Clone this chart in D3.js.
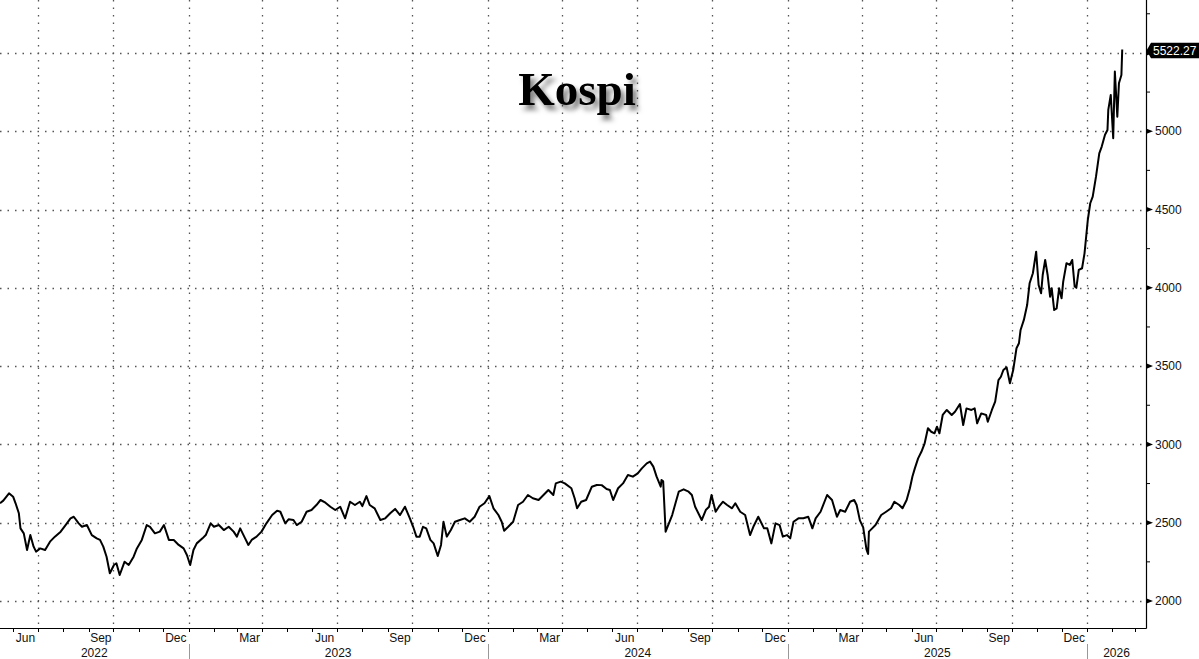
<!DOCTYPE html>
<html><head><meta charset="utf-8">
<script src="https://cdn.jsdelivr.net/npm/d3@7"></script>
<style>body{margin:0;background:#fff}svg{display:block}</style>
</head><body>
<svg id="c" width="1199" height="659"></svg>
<script>
const dates = [
"2022-05-16","2022-05-20","2022-05-27","2022-06-01","2022-06-04","2022-06-08","2022-06-10","2022-06-14","2022-06-18","2022-06-22","2022-06-26","2022-06-29",
"2022-07-04","2022-07-10","2022-07-16","2022-07-22","2022-07-29","2022-08-04","2022-08-10","2022-08-14","2022-08-20","2022-08-24","2022-08-30",
"2022-09-05","2022-09-11","2022-09-15","2022-09-19","2022-09-23","2022-09-27","2022-10-02","2022-10-05","2022-10-09","2022-10-15","2022-10-20","2022-10-26","2022-10-30",
"2022-11-05","2022-11-11","2022-11-15","2022-11-21","2022-11-27","2022-12-02","2022-12-08","2022-12-14","2022-12-20","2022-12-26","2022-12-30",
"2023-01-03","2023-01-07","2023-01-11","2023-01-18","2023-01-22","2023-01-28","2023-02-01","2023-02-07","2023-02-13","2023-02-19","2023-02-25",
"2023-03-01","2023-03-05","2023-03-11","2023-03-15","2023-03-19","2023-03-25","2023-03-31","2023-04-06","2023-04-13","2023-04-19","2023-04-23","2023-04-29",
"2023-05-03","2023-05-09","2023-05-13","2023-05-19","2023-05-25","2023-05-31","2023-06-06","2023-06-11","2023-06-17","2023-06-23","2023-06-29",
"2023-07-05","2023-07-11","2023-07-17","2023-07-23","2023-07-29","2023-08-01","2023-08-06","2023-08-10","2023-08-16","2023-08-23","2023-08-29",
"2023-09-04","2023-09-10","2023-09-16","2023-09-22","2023-09-28","2023-10-02","2023-10-06","2023-10-10","2023-10-14","2023-10-18","2023-10-23","2023-10-27",
"2023-11-01","2023-11-05","2023-11-08","2023-11-12","2023-11-17","2023-11-22","2023-11-28","2023-12-04","2023-12-10","2023-12-16","2023-12-22","2023-12-28",
"2024-01-03","2024-01-08","2024-01-14","2024-01-18","2024-01-21","2024-01-26","2024-02-01","2024-02-07","2024-02-13","2024-02-19","2024-02-25",
"2024-03-03","2024-03-09","2024-03-15","2024-03-21","2024-03-24","2024-03-30","2024-04-04","2024-04-12","2024-04-16","2024-04-19","2024-04-24","2024-04-30",
"2024-05-07","2024-05-13","2024-05-19","2024-05-25","2024-05-29","2024-06-02","2024-06-08","2024-06-14","2024-06-20","2024-06-26",
"2024-07-02","2024-07-07","2024-07-13","2024-07-17","2024-07-21","2024-07-25","2024-07-30","2024-07-31","2024-08-02","2024-08-05","2024-08-13","2024-08-17","2024-08-21","2024-08-27",
"2024-09-02","2024-09-06","2024-09-10","2024-09-18","2024-09-23","2024-09-27","2024-09-30","2024-10-05","2024-10-09","2024-10-14","2024-10-19","2024-10-25","2024-10-29",
"2024-11-04","2024-11-10","2024-11-16","2024-11-20","2024-11-26","2024-12-03","2024-12-07","2024-12-12","2024-12-17","2024-12-22","2024-12-26","2024-12-31",
"2025-01-04","2025-01-08","2025-01-14","2025-01-20","2025-01-26","2025-01-31","2025-02-04","2025-02-10","2025-02-18","2025-02-24",
"2025-03-02","2025-03-06","2025-03-12","2025-03-18","2025-03-23","2025-03-26","2025-03-30","2025-04-03","2025-04-07","2025-04-09","2025-04-10","2025-04-14","2025-04-18","2025-04-25",
"2025-05-01","2025-05-07","2025-05-11","2025-05-17","2025-05-21","2025-05-26","2025-05-30","2025-06-02","2025-06-05","2025-06-09","2025-06-13","2025-06-17","2025-06-21","2025-06-25","2025-06-29",
"2025-07-02","2025-07-05","2025-07-09","2025-07-14","2025-07-20","2025-07-24","2025-07-30","2025-08-03","2025-08-07","2025-08-13","2025-08-17","2025-08-20","2025-08-25","2025-08-31",
"2025-09-02","2025-09-07","2025-09-11","2025-09-15","2025-09-18","2025-09-21","2025-09-25","2025-09-29","2025-10-03","2025-10-07","2025-10-10","2025-10-12","2025-10-16","2025-10-20","2025-10-23","2025-10-27","2025-10-31",
"2025-11-03","2025-11-06","2025-11-08","2025-11-11","2025-11-14","2025-11-17","2025-11-19","2025-11-22","2025-11-25","2025-11-28",
"2025-12-01","2025-12-03","2025-12-07","2025-12-11","2025-12-14","2025-12-17","2025-12-19","2025-12-22","2025-12-26","2025-12-29",
"2026-01-02","2026-01-05","2026-01-08","2026-01-12","2026-01-16","2026-01-19","2026-01-23","2026-01-26","2026-01-27","2026-01-30",
"2026-02-02","2026-02-04","2026-02-07","2026-02-09","2026-02-12","2026-02-13"
];
const values = [
2624,2641,2688,2666,2624,2560,2464,2432,2326,2421,2347,2315,
2336,2326,2379,2411,2443,2485,2528,2538,2496,2474,2485,
2421,2400,2390,2347,2283,2177,2230,2241,2166,2251,2230,2283,2336,
2390,2485,2474,2432,2443,2485,2390,2390,2358,2336,2294,
2230,2326,2368,2400,2421,2496,2474,2485,2453,2474,2443,
2411,2464,2400,2358,2390,2411,2443,2496,2549,2577,2570,2496,
2522,2517,2485,2506,2570,2581,2613,2645,2628,2602,2581,
2602,2528,2634,2613,2634,2606,2670,2613,2592,2517,2528,
2560,2588,2549,2602,2528,2474,2411,2411,2474,2464,2390,2368,
2287,2358,2506,2411,2453,2506,2517,2528,2506,2538,2602,2624,
2670,2592,2549,2506,2449,2474,2506,2613,2634,2677,2656,
2645,2677,2709,2677,2751,2762,2751,2720,2656,2592,2634,2645,
2730,2741,2740,2715,2709,2645,2720,2751,2805,2794,
2815,2847,2879,2890,2858,2794,2730,2773,2765,2443,2549,2624,2698,2713,
2698,2677,2602,2517,2581,2602,2677,2570,2602,2634,2613,2592,2624,
2570,2549,2421,2474,2538,2464,2464,2368,2496,2485,2411,2421,
2400,2506,2528,2528,2538,2464,2528,2570,2677,2645,
2538,2581,2570,2634,2645,2613,2515,2470,2330,2300,2443,2464,2485,2549,
2570,2592,2634,2613,2592,2645,2720,2794,2847,2911,2953,3007,3103,3081,3071,
3113,3071,3188,3220,3188,3209,3258,3124,3230,3220,3230,3135,3198,3188,
3145,3220,3273,3411,3432,3475,3492,3390,3475,3614,3646,3731,3795,3890,4029,4093,4231,
4018,3965,4082,4178,4082,3943,3997,3858,3869,3997,
3933,4040,4157,4146,4178,4008,4000,4114,4125,4220,
4433,4540,4582,4710,4859,4902,4977,5008,5136,5232,
4955,5381,5093,5306,5359,5522.27
];
const yMajorTicks = [2000, 2500, 3000, 3500, 4000, 4500, 5000, 5500];
const yMinorTicks = [2250, 2750, 3250, 3750, 4250, 4750, 5250, 5750];
const monthNames = ["Jan","Feb","Mar","Apr","May","Jun","Jul","Aug","Sep","Oct","Nov","Dec"];
const titleText = "Kospi";
const lastValueText = "5522.27";

const plotR = 1146, plotB = 628;
const parse = d3.utcParse("%Y-%m-%d");
const data = dates.map((d, i) => ({ date: parse(d), value: values[i] }));
const x0 = parse("2022-05-16"), x1 = parse("2026-03-14");
const x = d3.scaleUtc().domain([x0, x1]).range([0, plotR]);
const y = d3.scaleLinear().domain([1827.6, 5838]).range([plotB, 0]);

const svg = d3.select("#c");
const font = "'Liberation Sans', Arial, sans-serif";
svg.append("rect").attr("width", 1199).attr("height", 659).attr("fill", "#fff");

const defs = svg.append("defs");
defs.append("clipPath").attr("id", "clip").append("rect")
  .attr("x", 0).attr("y", 0).attr("width", plotR).attr("height", plotB);
const f = defs.append("filter").attr("id", "shadow")
  .attr("x", "-20%").attr("y", "-30%").attr("width", "150%").attr("height", "180%");
f.append("feDropShadow").attr("dx", 4).attr("dy", 5).attr("stdDeviation", 2.6)
  .attr("flood-color", "#000").attr("flood-opacity", 0.5);

// grid
const grid = svg.append("g").attr("stroke", "#555").attr("stroke-width", 1.3)
  .attr("stroke-dasharray", "1.5,6");
yMajorTicks.forEach(v => {
  grid.append("line").attr("x1", 0).attr("x2", plotR)
    .attr("y1", Math.round(y(v)) + 0.5).attr("y2", Math.round(y(v)) + 0.5);
});
const quarterStarts = d3.utcMonth.every(3).range(x0, x1);
quarterStarts.forEach(d => {
  const xx = Math.round(x(d)) + 0.5;
  grid.append("line").attr("x1", xx).attr("x2", xx).attr("y1", 0).attr("y2", plotB);
});

// line
const line = d3.line().x(d => x(d.date)).y(d => y(d.value)).curve(d3.curveLinear);
svg.append("path").datum(data).attr("clip-path", "url(#clip)")
  .attr("fill", "none").attr("stroke", "#000").attr("stroke-width", 2)
  .attr("stroke-linejoin", "round").attr("d", line);

// axes lines
svg.append("line").attr("x1", plotR + 0.5).attr("x2", plotR + 0.5).attr("y1", 0).attr("y2", plotB + 0.5)
  .attr("stroke", "#000").attr("stroke-width", 1.2);
svg.append("line").attr("x1", 0).attr("x2", plotR + 0.5).attr("y1", plotB + 0.5).attr("y2", plotB + 0.5)
  .attr("stroke", "#000").attr("stroke-width", 1.2);

// y ticks
yMajorTicks.forEach(v => {
  const yy = y(v);
  svg.append("path").attr("d", `M${plotR},${yy - 2.8}L${plotR + 7},${yy}L${plotR},${yy + 2.8}Z`).attr("fill", "#000");
  if (v !== 5500) {
    svg.append("text").attr("x", plotR + 9).attr("y", yy).attr("dy", "0.35em")
      .attr("font-family", font).attr("font-size", 12).attr("fill", "#111").text(v);
  }
});
yMinorTicks.forEach(v => {
  svg.append("line").attr("x1", plotR).attr("x2", plotR + 4).attr("y1", y(v)).attr("y2", y(v))
    .attr("stroke", "#000").attr("stroke-width", 1);
});

// month ticks
d3.utcMonth.range(x0, x1).forEach(d => {
  const xx = Math.round(x(d)) + 0.5;
  svg.append("line").attr("x1", xx).attr("x2", xx).attr("y1", plotB).attr("y2", plotB + 4)
    .attr("stroke", "#000").attr("stroke-width", 1);
});
// month labels
d3.utcMonth.range(x0, x1).forEach(d => {
  const m = d.getUTCMonth();
  const end = d3.utcMonth.offset(d, 1);
  if ([2, 5, 8, 11].includes(m) && end <= x1) {
    svg.append("text").attr("x", (x(d) + x(end)) / 2).attr("y", 641.5)
      .attr("text-anchor", "middle").attr("font-family", font).attr("font-size", 12)
      .attr("fill", "#111").text(monthNames[m]);
  }
});
// year labels and separators
d3.utcYear.range(d3.utcYear.floor(x0), x1).forEach(d => {
  const s = d < x0 ? x0 : d;
  const e0 = d3.utcYear.offset(d, 1);
  const e = e0 > x1 ? x1 : e0;
  svg.append("text").attr("x", (x(s) + x(e)) / 2).attr("y", 657)
    .attr("text-anchor", "middle").attr("font-family", font).attr("font-size", 12)
    .attr("fill", "#111").text(d.getUTCFullYear());
  if (d > x0) {
    const xx = Math.round(x(d)) + 0.5;
    svg.append("line").attr("x1", xx).attr("x2", xx).attr("y1", 644).attr("y2", 659)
      .attr("stroke", "#999").attr("stroke-width", 1);
  }
});

// last value label
const ly = y(values[values.length - 1]) + 1;
svg.append("path").attr("d", `M${plotR + 0.5},${ly}L${plotR + 5},${ly - 7.8}L1199,${ly - 7.8}L1199,${ly + 7.8}L${plotR + 5},${ly + 7.8}Z`)
  .attr("fill", "#000");
svg.append("text").attr("x", plotR + 7).attr("y", ly).attr("dy", "0.36em")
  .attr("font-family", font).attr("font-size", 12).attr("fill", "#fff").text(lastValueText);

// title
svg.append("text").attr("x", 577).attr("y", 105).attr("text-anchor", "middle")
  .attr("font-family", "'Liberation Serif', 'Times New Roman', serif").attr("font-weight", "bold")
  .attr("font-size", 47).attr("fill", "#000").attr("filter", "url(#shadow)").text(titleText);
</script>
</body></html>
